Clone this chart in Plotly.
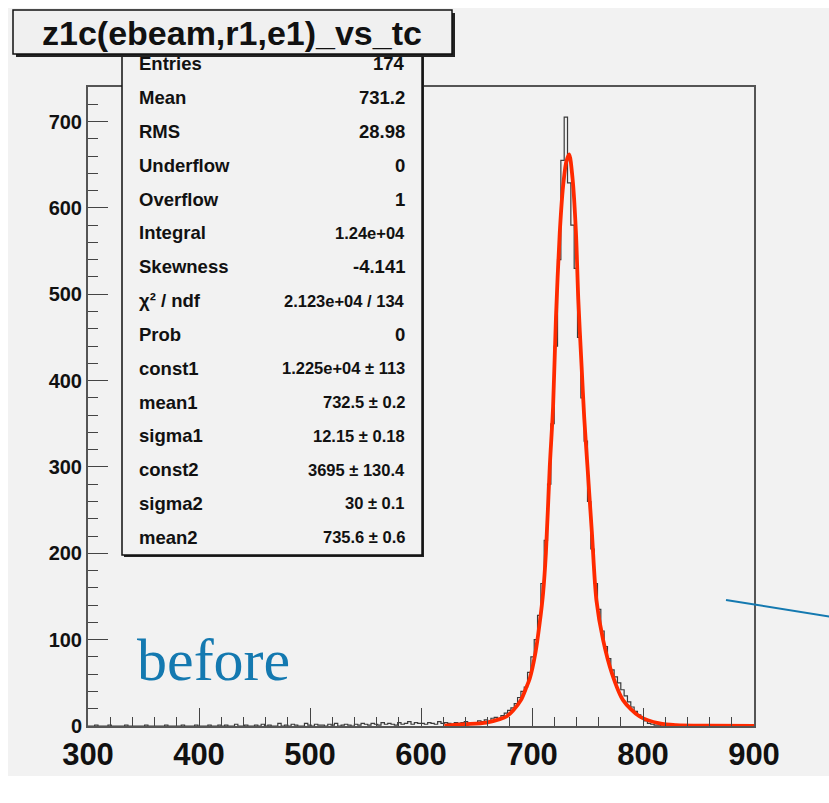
import plotly.graph_objects as go

# ---------------- data ----------------
bin_lo = 300
bin_width = 3

low_counts = [  # 300 .. 600
    0, 0, 1, 0, 0, 0, 1, 0, 0, 0,
    0, 1, 0, 0, 0, 0, 0, 1, 0, 0,
    0, 0, 0, 1, 0, 0, 0, 0, 1, 0,
    0, 0, 1, 0, 0, 0, 1, 0, 0, 1,
    0, 1, 0, 0, 2, 0, 0, 1, 0, 0,
    1, 0, 2, 0, 1, 0, 0, 3, 0, 1,
    0, 2, 1, 0, 0, 3, 1, 0, 2, 1,
    1, 0, 2, 1, 3, 0, 1, 2, 1, 0,
    2, 1, 3, 2, 1, 3, 2, 1, 4, 2,
    3, 2, 1, 4, 2, 3, 5, 2, 4, 3,
]
peak_counts = [  # 600 .. 840
    3, 2, 4, 3, 2, 5, 3, 4, 3, 2,
    4, 3, 4, 5, 3, 2, 4, 6, 5, 7,
    5, 9, 10, 8, 12, 15, 18, 21, 26, 33,
    40, 45, 62, 80, 100, 128, 165, 215, 280, 350,
    440, 540, 655, 705, 629, 580, 530, 450, 380, 330,
    260, 205, 165, 135, 110, 92, 78, 65, 57, 50,
    42, 35, 28, 22, 17, 13, 9, 6, 3, 2,
    1, 1, 0, 1, 0, 0, 0, 0, 0, 0,
]
high_counts = [  # 840 .. 900
    0, 1, 0, 0, 0, 0, 0, 0, 0, 0,
    0, 0, 0, 0, 0, 0, 0, 0, 0, 0,
]

fit_x = [621, 640, 659, 671, 677, 683, 690, 695, 698, 703, 707, 710, 712.5,
         716, 719, 721.6, 725, 728, 731, 733.5, 736.6, 739.6, 741.7, 744.7,
         747, 750, 754, 758, 764, 772, 782, 797, 815, 830, 860, 900]
fit_y = [0.5, 2, 4, 8, 11, 18, 30, 45, 55, 84, 120, 154, 200,
         300, 370, 474, 571, 625, 654, 662, 633, 571, 494, 416,
         358, 300, 223, 146, 100, 61, 30, 11, 3, 1, 0.3, 0]

title_text = "z1c(ebeam,r1,e1)_vs_tc"
stat_labels = ["Entries", "Mean", "RMS", "Underflow", "Overflow", "Integral",
               "Skewness", "χ² / ndf", "Prob", "const1", "mean1", "sigma1",
               "const2", "sigma2", "mean2"]
stat_values = ["174", "731.2", "28.98", "0", "1", "1.24e+04", "-4.141",
               "2.123e+04 / 134", "0", "1.225e+04 ± 113", "732.5 ± 0.2",
               "12.15 ± 0.18", "3695 ± 130.4", "30 ± 0.1", "735.6 ± 0.6"]
note_text = "before"

# ---------------- build ----------------
counts = low_counts + peak_counts + high_counts
edges = [bin_lo + i * bin_width for i in range(len(counts) + 1)]
step_y = counts + [counts[-1]]

W, H = 829, 803
L, R, T, B = 88, 754, 87, 726
PW, PH = R - L, B - T

def px(x):
    return (x - L) / PW

def py(y):
    return (B - y) / PH

BG = "#f2f2f2"
fig = go.Figure()

fig.add_trace(go.Scatter(
    x=edges, y=step_y, mode="lines", line=dict(color="#3a3a3a", width=1.2, shape="hv"),
    hoverinfo="skip", showlegend=False))
fig.add_trace(go.Scatter(
    x=fit_x, y=fit_y, mode="lines",
    line=dict(color="#ff2a00", width=3.8, shape="spline", smoothing=0.8),
    hoverinfo="skip", showlegend=False))

shapes = []
shapes.append(dict(type="rect", xref="paper", yref="paper", layer="below",
                   x0=px(8), x1=px(829), y0=py(8), y1=py(776),
                   fillcolor=BG, line=dict(width=0)))
shapes.append(dict(type="rect", xref="paper", yref="paper",
                   x0=px(124), x1=px(424), y0=py(50), y1=py(557),
                   fillcolor="#222222", line=dict(width=0)))
shapes.append(dict(type="rect", xref="paper", yref="paper",
                   x0=px(122), x1=px(422), y0=py(48), y1=py(555),
                   fillcolor=BG, line=dict(color="#111111", width=1.5)))
shapes.append(dict(type="rect", xref="paper", yref="paper",
                   x0=px(16), x1=px(455), y0=py(13), y1=py(57),
                   fillcolor="#222222", line=dict(width=0)))
shapes.append(dict(type="rect", xref="paper", yref="paper",
                   x0=px(13), x1=px(452), y0=py(10), y1=py(54),
                   fillcolor="#f0f0f0", line=dict(color="#111111", width=1.5)))
shapes.append(dict(type="line", xref="paper", yref="paper",
                   x0=px(726), x1=px(832), y0=py(600), y1=py(617),
                   line=dict(color="#1479b0", width=2)))

annotations = []
annotations.append(dict(xref="paper", yref="paper", x=px(232), y=py(33),
                        text="<b>" + title_text + "</b>", showarrow=False,
                        xanchor="center", yanchor="middle",
                        font=dict(family="Liberation Sans", size=34, color="#111111")))
for i, (lab, val) in enumerate(zip(stat_labels, stat_values)):
    yy = 64 + i * 33.8
    annotations.append(dict(xref="paper", yref="paper", x=px(137), y=py(yy),
                            text="<b>" + lab + "</b>", showarrow=False,
                            xanchor="left", yanchor="middle",
                            font=dict(family="Liberation Sans", size=18.5, color="#111111")))
    small = len(val) > 6
    annotations.append(dict(xref="paper", yref="paper", x=px(407), y=py(yy),
                            text="<b>" + val + "</b>", showarrow=False,
                            xanchor="right", yanchor="middle",
                            font=dict(family="Liberation Sans", size=16.5 if small else 18.5,
                                      color="#111111")))
annotations.append(dict(xref="paper", yref="paper", x=px(135), y=py(660),
                        text=note_text, showarrow=False, xanchor="left", yanchor="middle",
                        font=dict(family="Liberation Serif", size=60, color="#1479b0")))

fig.update_layout(
    width=W, height=H,
    margin=dict(l=L, r=W - R, t=T, b=H - B),
    paper_bgcolor="white", plot_bgcolor=BG,
    shapes=shapes, annotations=annotations,
    showlegend=False,
)
fig.update_xaxes(
    range=[300, 900], tickmode="linear", tick0=300, dtick=100,
    ticks="inside", ticklen=18, tickwidth=1.3, tickcolor="#444444",
    showline=True, linecolor="#555555", linewidth=2, mirror=True,
    showgrid=False, zeroline=False,
    tickfont=dict(family="Liberation Sans", size=31, color="#111111", weight="bold"),
    minor=dict(dtick=20, tick0=300, ticks="inside", ticklen=9, tickwidth=1.3,
               tickcolor="#444444", showgrid=False),
)
fig.update_yaxes(
    range=[0, 740], tickmode="linear", tick0=0, dtick=100,
    ticks="inside", ticklen=20, tickwidth=1.3, tickcolor="#444444",
    showline=True, linecolor="#555555", linewidth=2, mirror=True,
    showgrid=False, zeroline=False,
    tickfont=dict(family="Liberation Sans", size=20, color="#111111", weight="bold"),
    minor=dict(dtick=20, tick0=0, ticks="inside", ticklen=10, tickwidth=1.3,
               tickcolor="#444444", showgrid=False),
)

fig.write_html("out.html")
